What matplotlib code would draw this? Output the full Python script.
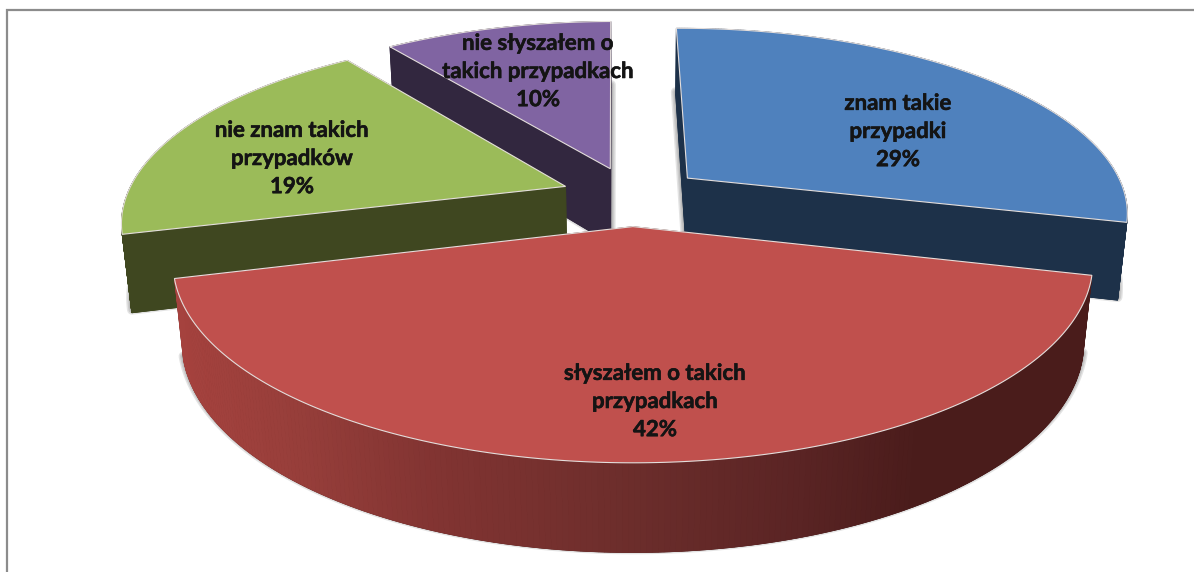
import numpy as np
import matplotlib
matplotlib.use('Agg')
import matplotlib.pyplot as plt
from matplotlib.patches import Polygon
import matplotlib.patheffects as pe

# --- data ---
labels = ['znam takie\nprzypadki', 'słyszałem o takich\nprzypadkach', 'nie znam takich\nprzypadków', 'nie słyszałem o\ntakich przypadkach']
values = [29, 42, 19, 10]

# --- styles ---
top_colors = ['#4F81BD', '#C0504D', '#9BBB59', '#8064A2']
wall_colors = ['#1D3149', '#4A1C1B', '#3F4720', '#32273F']
label_xy = [(898, 131.5), (655, 401.5), (292, 158.5), (538, 71.5)]

# shading of the red wall from left to right
grad_x = [183, 300, 430, 640, 800, 920]
grad_rgb = np.array([[165, 66, 62], [150, 62, 58], [130, 52, 50], [107, 45, 43], [90, 36, 36], [74, 28, 27]]) / 255

# camera fitted to the picture
CX, CY, FX, FY = 632.3, 196.1, 2222, 2074
TILT, DIST, HEIGHT, EXPLODE, ROT = 0.4606, 5.06, 0.212, 0.1626, -0.4463

bounds = np.cumsum([0] + values) * 3.6


def project(X, Y, depth):
    zh = HEIGHT * depth
    zc = Y * np.cos(TILT) + zh * np.sin(TILT) + DIST
    yc = Y * np.sin(TILT) - zh * np.cos(TILT)
    return CX + FX * X / zc, CY - FY * yc / zc


def slice_point(i, theta, depth):
    mid = np.radians((bounds[i] + bounds[i + 1]) / 2 + ROT)
    X, Y = EXPLODE * np.sin(mid), EXPLODE * np.cos(mid)
    if theta is not None:
        a = np.radians(theta + ROT)
        X, Y = X + np.sin(a), Y + np.cos(a)
    return project(X, Y, depth)


fig = plt.figure(figsize=(11.94, 5.72), dpi=100)
ax = fig.add_axes([0, 0, 1, 1])
ax.set_xlim(0, 1194)
ax.set_ylim(572, 0)
ax.axis('off')

# frame, only the top and left edges are in the picture
ax.plot([7, 7, 1194], [572, 9.5, 9.5], color='#8C8C8C', lw=1.6, solid_joinstyle='miter')

# back to front
for i in [3, 2, 0, 1]:
    th = np.linspace(bounds[i], bounds[i + 1], 240)
    top = [slice_point(i, None, 0)] + [slice_point(i, a, 0) for a in th]
    bot = [slice_point(i, None, 1)] + [slice_point(i, a, 1) for a in th]

    # soft shadow around the lower face
    shadow = [(x, y - 3) for x, y in bot]
    for lw in (7, 5, 3):
        ax.add_patch(Polygon(shadow, fc='none', ec='#555555', lw=lw, alpha=0.16, joinstyle='round'))

    # the two cut faces first, the rounded wall goes over them
    ax.add_patch(Polygon(bot, fc=wall_colors[i], ec=wall_colors[i], lw=0.5))
    for k in (0, len(top) - 1):
        a, b, c, d = top[k], top[(k + 1) % len(top)], bot[(k + 1) % len(top)], bot[k]
        ax.add_patch(Polygon([a, b, c, d], fc=wall_colors[i], ec=wall_colors[i], lw=0.6))

    for k in range(1, len(top) - 1):
        a, b, c, d = top[k], top[k + 1], bot[k + 1], bot[k]
        col = wall_colors[i]
        if i == 1:
            mx = (a[0] + b[0]) / 2
            col = [np.interp(mx, grad_x, grad_rgb[:, j]) for j in range(3)]
        ax.add_patch(Polygon([a, b, c, d], fc=col, ec=col, lw=0.6))
    ax.add_patch(Polygon(top, fc=top_colors[i], ec='#E4DEDC', lw=0.8))

for i in range(len(values)):
    t = ax.text(label_xy[i][0], label_xy[i][1], labels[i] + '\n%d%%' % values[i], ha='center', va='center',
                family='Lato', weight='bold', fontsize=16, linespacing=1.42, color='#141414')
    t.set_path_effects([pe.withStroke(linewidth=0.4, foreground='#141414')])

fig.savefig('out.png', dpi=100)
